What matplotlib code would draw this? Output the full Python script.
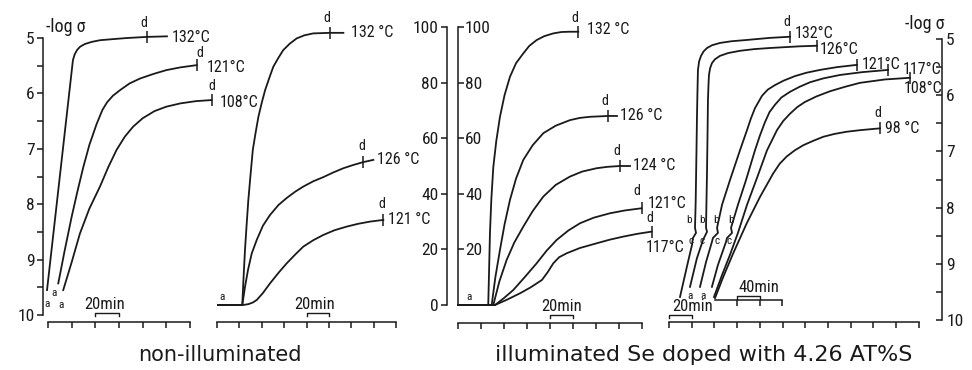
import matplotlib.pyplot as plt

plt.rcParams['font.family'] = ['Roboto Condensed', 'Liberation Sans Narrow', 'DejaVu Sans']
plt.rcParams['font.stretch'] = 'condensed'

INK = '#1a1a1a'

# ---- data (time in minutes, -log sigma or %) ----
# panel 1: non-illuminated, -log sigma
p1_temps = ['132°C', '121°C', '108°C']
p1_t = [[-0.8, 21.1, 22.5, 24.5, 27, 31, 37, 44, 55, 67, 83.7, 100.6],
        [8.7, 14, 20, 25, 30, 35, 41, 46, 50, 55, 61, 69, 78, 89, 100, 112, 125.7],
        [12.9, 20, 27, 35, 44, 51, 58, 65, 72, 80, 90, 100, 112, 125, 138.4]]
p1_v = [[9.55, 5.40, 5.30, 5.22, 5.16, 5.11, 5.07, 5.04, 5.02, 5.00, 4.98, 4.97],
        [9.43, 8.85, 8.23, 7.76, 7.32, 6.93, 6.56, 6.30, 6.16, 6.04, 5.94, 5.82, 5.73, 5.65, 5.58, 5.53, 5.49],
        [9.55, 9.05, 8.53, 8.08, 7.68, 7.33, 7.02, 6.78, 6.60, 6.45, 6.32, 6.24, 6.18, 6.14, 6.12]]
p1_d = [(83.7, 4.98), (125.7, 5.49), (138.4, 6.12)]

# panel 2: non-illuminated, %
p2_temps = ['132 °C', '126 °C', '121 °C']
p2_t = [[1, 22.6, 23.5, 25, 26.5, 28, 30, 32, 34.5, 37, 40, 43, 47, 50.3, 55, 59.2, 65, 71.2, 78, 86, 101, 112.9],
        [1, 22.6, 25, 27.7, 31, 35.5, 41, 47.4, 55, 62.3, 70, 77.1, 86, 95, 104, 112.9, 122, 130.7, 139.7],
        [1, 23.2, 28, 32, 35.5, 41, 47.4, 55, 62.3, 70, 77.1, 86, 95, 105, 115.9, 126, 136.7, 148.6]]
p2_v = [[0, 0, 8, 19.8, 29, 37.8, 47, 55.8, 62, 67.7, 72.8, 77.3, 82, 85.7, 89, 91.7, 94, 95.9, 97, 97.7, 97.9, 97.9],
        [0, 0, 6.5, 12.6, 18.5, 23.4, 28.5, 32.4, 36, 38.5, 40.8, 42.6, 44.5, 46.0, 47.7, 49.2, 50.4, 51.4, 52.2],
        [0, 0, 0.3, 0.9, 1.8, 4.3, 7.8, 11.6, 15.0, 18.2, 21.0, 23.3, 25.2, 26.9, 28.2, 29.2, 30.0, 30.6]]
p2_d = [(101.0, 97.9), (130.7, 51.4), (148.6, 30.6)]

# panel 3: illuminated, %
p3_temps = ['132 °C', '126 °C', '124 °C', '121°C', '117°C']
p3_t = [[0, 26.3, 26.9, 27.8, 29, 30.7, 33.3, 36.5, 40.5, 45.2, 50.5, 56.8, 62, 68.4, 75, 82.9, 90, 97.4, 104.6],
        [0, 29.3, 32.5, 36.5, 40.5, 45.2, 50.5, 56.8, 65, 74.2, 85, 97.4, 106, 114.8, 130.7, 138.3],
        [0, 30.7, 36, 42.3, 49, 56.8, 65, 74.2, 85, 97.4, 108, 120.6, 130, 140.9, 149.6],
        [0, 32.2, 40, 48.1, 58, 68.4, 77, 85.8, 96, 106.1, 118, 132.2, 145, 159.7],
        [0, 32.2, 42, 53.9, 63, 73, 78, 82.9, 88, 94.5, 106, 120.6, 132, 143.7, 156, 168.4]]
p3_v = [[0, 0, 10, 25.9, 38, 49.6, 59, 67.7, 75.5, 82.1, 87, 90.5, 93.2, 95.3, 96.7, 97.7, 98.2, 98.3, 98.3],
        [0, 0, 10, 19.8, 29, 37.8, 45.5, 52.2, 57.5, 61.8, 64.5, 66.5, 67.3, 67.7, 68.0, 68.0],
        [0, 0, 8.5, 16.2, 22.5, 28.2, 33.8, 39.0, 43.2, 46.2, 48, 49.2, 49.7, 50.0, 50.0],
        [0, 0, 2.5, 5.4, 10, 15.0, 19.5, 23.4, 26.8, 29.4, 31.4, 33.0, 34.0, 34.8],
        [0, 0, 1.8, 4.2, 6.3, 9.0, 11.8, 15.0, 17.2, 18.6, 20.5, 22.2, 23.5, 24.6, 25.6, 26.4]]
p3_d = [(104.6, 98.3), (130.7, 68.0), (140.9, 50.0), (159.7, 34.8), (168.4, 26.4)]

# panel 4: illuminated, -log sigma (20 min scale)
p4_temps = ['132°C', '126°C', '121°C', '117°C', '108°C']
p4_t = [[9.7, 16.7, 20.2, 21.1, 23.8, 22.9, 23.5, 23.8, 24.2, 24.6, 25.0, 25.5, 26.5, 28.2, 30.5, 33.5, 38,
         44.9, 55, 66.9, 88.9, 106.5],
        [18.5, 24.6, 29.9, 30.8, 33.5, 32.6, 33.0, 33.5, 34.0, 34.3, 34.8, 35.2, 36.2, 37.8, 40.5, 44.9, 52,
         62.5, 75, 88.9, 115.3, 130.3],
        [27.3, 32.6, 37.8, 38.7, 43.1, 42.3, 46.7, 53.7, 62.5, 68.7, 72, 75.7, 81.9, 87, 93.3, 101, 110.9,
         121, 132.9, 148, 165.5],
        [37.8, 43.1, 50.2, 51.1, 55.5, 54.6, 60.7, 67.8, 75.7, 80, 84.5, 88.5, 93.3, 99, 106.5, 115, 124.1,
         136, 150.5, 170, 192.8],
        [39.6, 46.7, 53.7, 60.7, 68.7, 77.5, 86.3, 95.1, 100.5, 106.5, 113, 119.7, 130, 141.7, 155, 168.1,
         190, 212.1]]
p4_v = [[9.59, 8.97, 8.67, 8.54, 8.45, 8.36, 7.9, 7.51, 7.0, 6.44, 6.0, 5.55, 5.40, 5.30, 5.22, 5.16, 5.11,
         5.07, 5.04, 5.02, 4.98, 4.96],
        [9.41, 8.90, 8.58, 8.54, 8.43, 8.36, 7.9, 7.33, 6.6, 6.09, 5.8, 5.64, 5.52, 5.43, 5.36, 5.30, 5.25,
         5.21, 5.18, 5.16, 5.13, 5.12],
        [9.41, 8.97, 8.61, 8.54, 8.45, 8.36, 7.95, 7.51, 6.98, 6.62, 6.42, 6.23, 6.01, 5.90, 5.82, 5.74, 5.66,
         5.60, 5.55, 5.50, 5.46],
        [9.41, 9.02, 8.61, 8.54, 8.45, 8.36, 7.95, 7.51, 6.98, 6.72, 6.48, 6.30, 6.17, 6.04, 5.94, 5.85, 5.77,
         5.70, 5.64, 5.59, 5.55],
        [9.59, 9.20, 8.84, 8.45, 7.95, 7.47, 6.98, 6.62, 6.46, 6.33, 6.21, 6.12, 6.02, 5.93, 5.85, 5.78,
         5.72, 5.69]]
p4_d = [(106.5, 4.96), (130.3, 5.12), (165.5, 5.46), (192.8, 5.55), (212.1, 5.69)]

# 98 degC curve on its own 40 min scale
p5_temp = '98 °C'
p5_t = [0, 14.8, 32.5, 56.4, 80, 103.6, 115, 127.5, 142, 157, 175, 192.5, 212, 234.1, 260, 293.3]
p5_v = [9.61, 9.23, 8.81, 8.28, 7.81, 7.39, 7.22, 7.09, 6.98, 6.89, 6.81, 6.74, 6.69, 6.65, 6.62, 6.59]
p5_d = (293.3, 6.59)

logs_ticks = [5, 6, 7, 8, 9, 10]
logs_minor = [5.5, 6.5, 7.5, 8.5, 9.5]
pct_ticks = [0, 20, 40, 60, 80, 100]

W, H = 972, 370


def px_box(l, t, r, b):
    return [l / W, 1 - b / H, (r - l) / W, (b - t) / H]


def fpos(x, y):
    return x / W, 1 - y / H


def base_style(ax):
    for s in ax.spines.values():
        s.set_color(INK)
        s.set_linewidth(1.1)
    ax.tick_params(which='both', color=INK, width=1.1, length=4, labelcolor=INK, labelsize=12.5)
    ax.patch.set_visible(False)


def x_axis(ax, end, step, out_px):
    ax.spines['bottom'].set_position(('outward', out_px * 0.72))
    ax.spines['bottom'].set_bounds(0, end)
    ax.set_xticks(range(0, end + 1, step))
    ax.tick_params(axis='x', direction='out', labelbottom=False)
    ax.spines['top'].set_visible(False)


def curves(ax, ts, vs, temps, dpts, lab_off, d_off):
    for i, (t, v) in enumerate(zip(ts, vs)):
        ax.plot(t, v, color=INK, lw=1.3, clip_on=False, solid_joinstyle='round')
        dt, dv = dpts[i]
        ax.plot([dt], [dv], marker='|', ms=9, mew=1.1, color=INK, clip_on=False)
        ax.annotate(temps[i], (t[-1], v[-1]), xytext=(lab_off[i][0] * 0.72, lab_off[i][1] * 0.72),
                    textcoords='offset points', va='center', ha='left', fontsize=11.5, color=INK,
                    annotation_clip=False)
        if d_off[i] is not None:
            ax.annotate('d', (dt, dv), xytext=(d_off[i][0] * 0.72, d_off[i][1] * 0.72),
                        textcoords='offset points', va='bottom', ha='center', fontsize=10, color=INK,
                        annotation_clip=False)


def bracket(ax, t0, t1, y, leg, text, dx=0):
    ax.plot([t0, t0, t1, t1], [leg, y, y, leg], color=INK, lw=1.0, clip_on=False)
    ax.annotate(text, ((t0 + t1) / 2, y), xytext=(dx * 0.72, 0.5), textcoords='offset points',
                ha='center', va='bottom', fontsize=12, color=INK, annotation_clip=False)


def small(ax, t, v, s):
    ax.text(t, v, s, fontsize=8, ha='center', va='center', color=INK, clip_on=False)


fig = plt.figure(figsize=(9.72, 3.70), dpi=100)

# ---- panel 1 ----
ax1 = fig.add_axes(px_box(43, 38, 195, 315))
base_style(ax1)
ax1.set_xlim(-4.2, 124.3)
ax1.set_ylim(10, 5)
ax1.spines['right'].set_visible(False)
x_axis(ax1, 120, 20, 7)
ax1.set_yticks(logs_ticks)
ax1.set_yticks(logs_minor, minor=True)
ax1.tick_params(axis='y', which='both', direction='out', pad=2)
curves(ax1, p1_t, p1_v, p1_temps, p1_d, [(5, -1), (10, -2), (8, -2)],
       [(-3, 7), (3, 5), (0, 7)])
for t, v in [(-0.5, 9.8), (5.1, 9.6), (11, 9.82)]:
    small(ax1, t, v, 'a')
bracket(ax1, 40, 60, 9.96, 10.02, '20min', -2)

# ---- panel 2 ----
ax2 = fig.add_axes(px_box(217, 27, 447, 305))
base_style(ax2)
ax2.set_xlim(0, 205.5)
ax2.set_ylim(0, 100)
ax2.spines['right'].set_visible(False)
ax2.spines['left'].set_position(('axes', 1.0))
x_axis(ax2, 160, 20, 17)
ax2.set_yticks(pct_ticks)
ax2.tick_params(axis='y', direction='out', pad=2)
curves(ax2, p2_t, p2_v, p2_temps, p2_d, [(8, 0), (4, 0), (5, 0)],
       [(-3, 8), (-1, 9), (-2, 9)])
small(ax2, 4.5, 2.8, 'a')
bracket(ax2, 80, 100, -2.9, -4.0, '20min', -3)

# ---- panel 3 ----
ax3 = fig.add_axes(px_box(458, 27, 650, 305))
base_style(ax3)
ax3.set_xlim(0, 167)
ax3.set_ylim(0, 100)
ax3.spines['left'].set_visible(False)
ax3.yaxis.tick_right()
ax3.spines['right'].set_position(('axes', 0.0))
x_axis(ax3, 160, 20, 18)
ax3.set_yticks(pct_ticks)
ax3.set_yticklabels([''] + [str(v) for v in pct_ticks[1:]])
ax3.tick_params(axis='y', direction='out', pad=1)
curves(ax3, p3_t, p3_v, p3_temps, p3_d, [(9, 2), (3, 0), (3, 0), (6, 5), (-6, -16)],
       [(-3, 7), (-3, 8), (-3, 8), (-5, 10), (-2, 7)])
small(ax3, 9.6, 2.8, 'a')
bracket(ax3, 80, 100, -3.6, -4.7, '20min', 0)

# ---- panel 4 ----
ax4 = fig.add_axes(px_box(665, 39, 942, 320))
base_style(ax4)
ax4.set_xlim(-3.5, 240.3)
ax4.set_ylim(10, 5)
ax4.spines['left'].set_visible(False)
ax4.yaxis.tick_right()
x_axis(ax4, 220, 20, 2)
ax4.set_yticks(logs_ticks)
ax4.set_yticks(logs_minor, minor=True)
ax4.tick_params(axis='y', which='both', direction='in', pad=3)
curves(ax4, p4_t, p4_v, p4_temps, p4_d, [(5, 3), (3, -4), (5, 0), (15, 0), (-6, -11)],
       [(-3, 8), None, None, None, None])
for t in [18.5, 29.9]:
    small(ax4, t, 9.57, 'a')
for t in [17.5, 28.9, 41.3, 54.5]:
    small(ax4, t, 8.22, 'b')
for t in [19.0, 28.7, 41.9, 52.5]:
    small(ax4, t, 8.60, 'c')
bracket(ax4, 0, 20, 9.91, 9.96, '20min', 12)

# 98 degC on 40 min scale
ax5 = fig.add_axes(px_box(665, 39, 942, 320))
base_style(ax5)
ax5.set_xlim(-88.9, 403.6)
ax5.set_ylim(10, 5)
for s in ['left', 'right', 'top']:
    ax5.spines[s].set_visible(False)
ax5.spines['bottom'].set_position(('data', 9.644))
ax5.spines['bottom'].set_bounds(0, 120)
ax5.set_xticks([40, 80, 120])
ax5.set_yticks([])
ax5.tick_params(axis='x', direction='out', labelbottom=False)
curves(ax5, [p5_t], [p5_v], [p5_temp], [p5_d], [(5, 0)], [(-2, 8)])
bracket(ax5, 40, 80, 9.57, 9.62, '40min', 10)

# axis titles and captions
fig.text(*fpos(46, 27), '-log σ', fontsize=13, va='center', ha='left', color=INK)
fig.text(*fpos(905, 24), '-log σ', fontsize=13, va='center', ha='left', color=INK)
fig.text(*fpos(220, 355), 'non-illuminated', fontsize=15, va='center', ha='center',
         color=INK, family=['DejaVu Sans'], stretch='normal')
fig.text(*fpos(704, 355), 'illuminated Se doped with 4.26 AT%S', fontsize=16, va='center',
         ha='center', color=INK, family=['DejaVu Sans'], stretch='normal')

fig.savefig('out.png', dpi=100, facecolor='white')
